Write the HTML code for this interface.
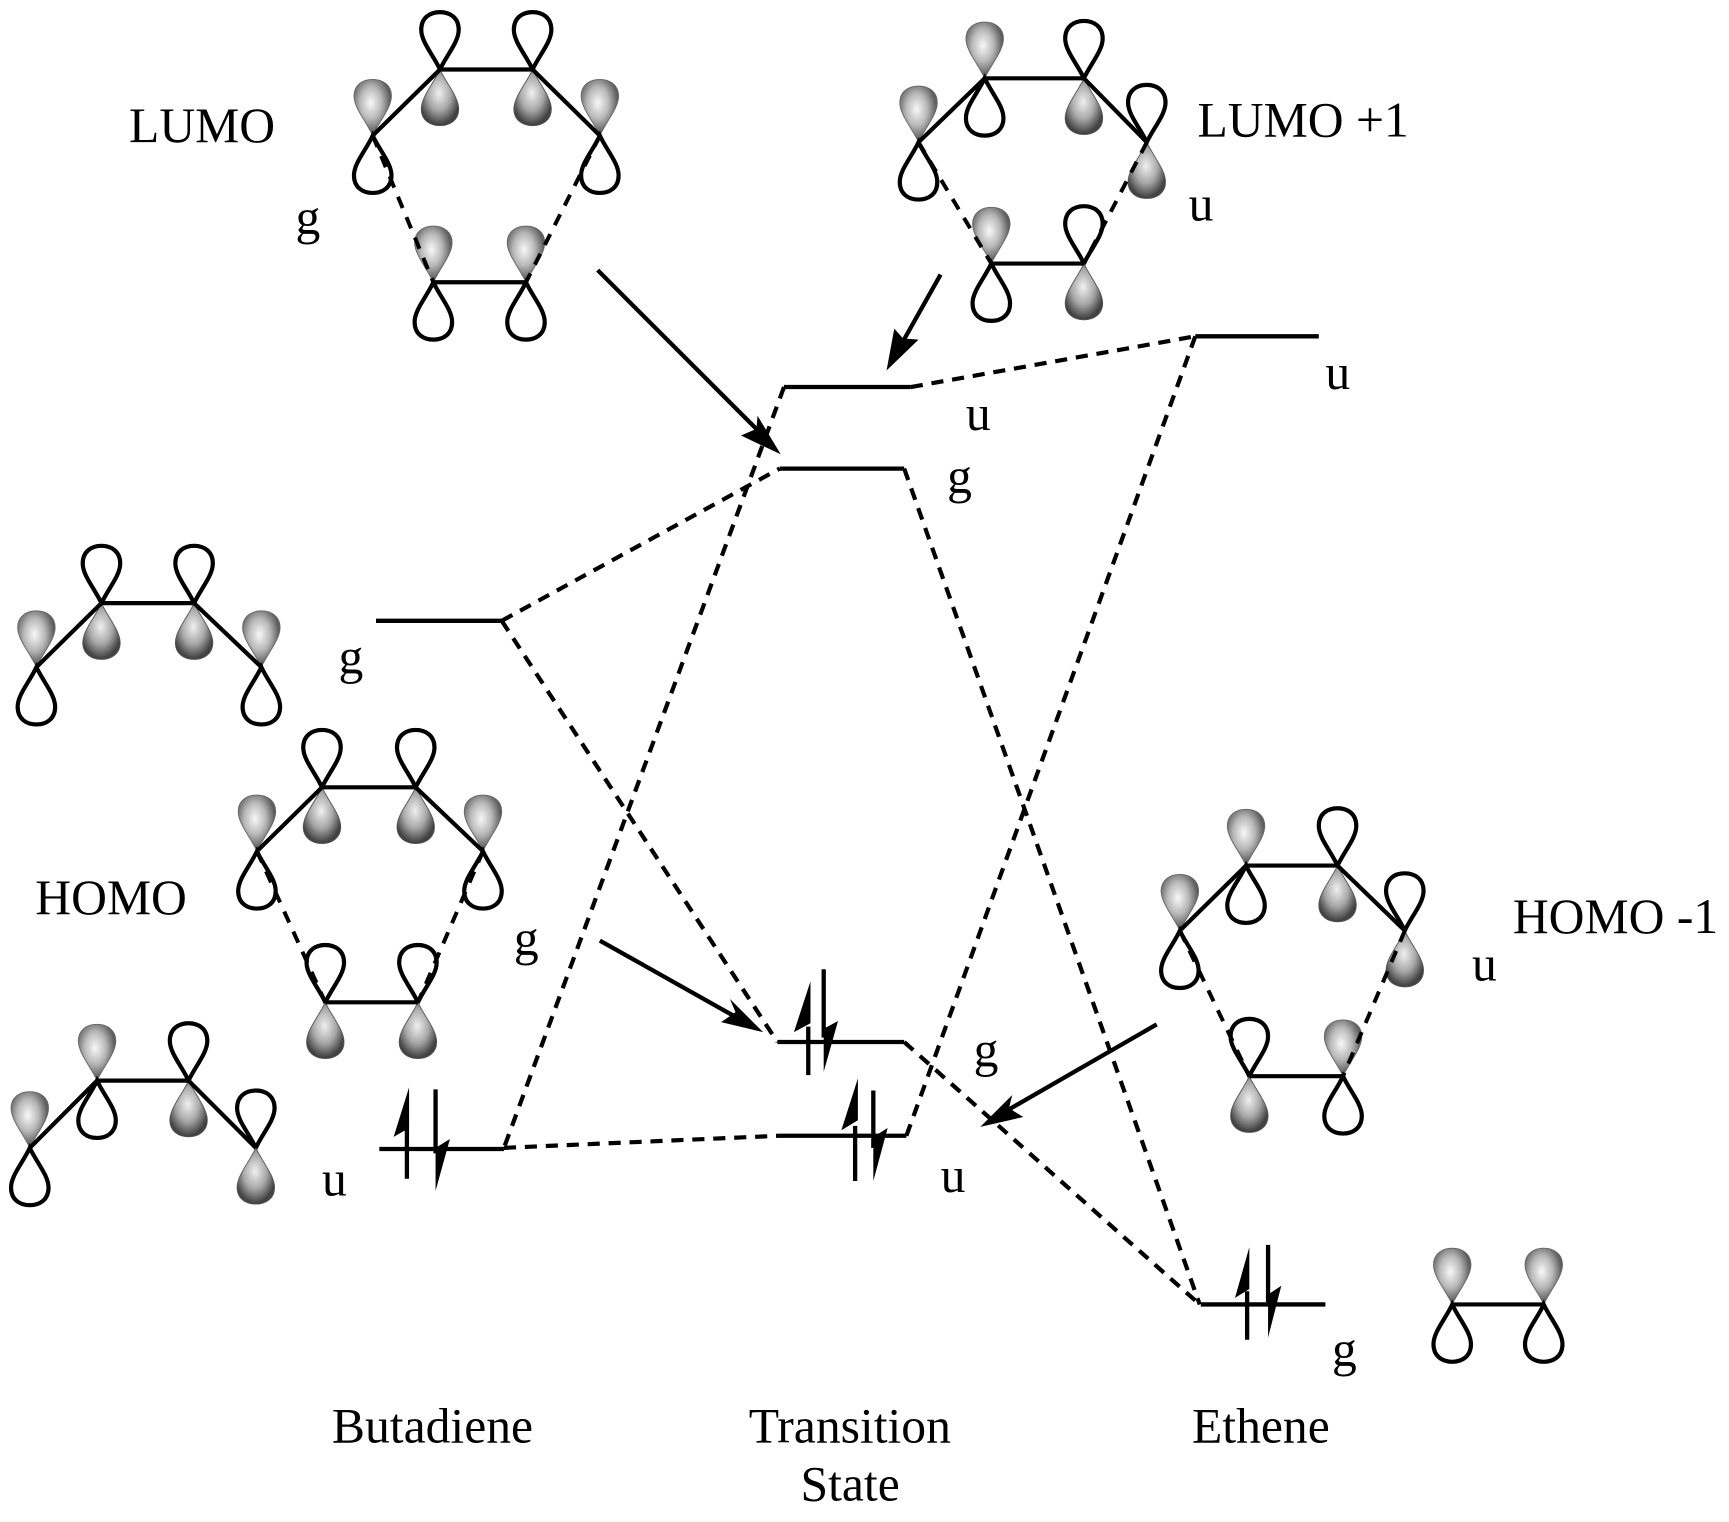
<!DOCTYPE html>
<html><head><meta charset="utf-8"><style>html,body{margin:0;padding:0;background:#fff}svg{display:block}text{font-family:"Liberation Serif",serif;font-size:45px;fill:#000}</style></head><body>
<svg width="1729" height="1522" viewBox="0 -1 1568 1380.3" xmlns="http://www.w3.org/2000/svg">
<defs>
<radialGradient id="gu" cx=".45" cy=".42" r=".52"><stop offset="0" stop-color="#f8f8f8"/><stop offset=".55" stop-color="#b8b8b8"/><stop offset="1" stop-color="#5e5e5e"/></radialGradient>
<radialGradient id="gd" cx=".48" cy=".42" r=".56"><stop offset="0" stop-color="#f0f0f0"/><stop offset=".55" stop-color="#a8a8a8"/><stop offset="1" stop-color="#424242"/></radialGradient>
<path id="ou" d="M0,0C-6,-13 -17,-25 -17,-36C-17,-47 -9,-52 0,-52C9,-52 17,-47 17,-36C17,-25 6,-13 0,0Z" fill="none" stroke="#000" stroke-width="3.8"/>
<path id="od" d="M0,0C-6,13 -17,25 -17,36C-17,47 -9,52 0,52C9,52 17,47 17,36C17,25 6,13 0,0Z" fill="none" stroke="#000" stroke-width="3.8"/>
<path id="fu" d="M0,0C-6,-13 -17,-25 -17,-36C-17,-46 -9,-51 0,-51C9,-51 17,-46 17,-36C17,-25 6,-13 0,0Z" fill="url(#gu)" stroke="#666" stroke-width=".8"/>
<path id="fd" d="M0,0C-6,13 -17,25 -17,36C-17,46 -9,51 0,51C9,51 17,46 17,36C17,25 6,13 0,0Z" fill="url(#gd)" stroke="#555" stroke-width=".8"/>
</defs>
<g id="lobes">
<!-- LUMO -->
<use href="#fu" x="338" y="122"/><use href="#od" x="338" y="122"/>
<use href="#ou" x="399" y="62"/><use href="#fd" x="399" y="62"/>
<use href="#ou" x="483" y="62"/><use href="#fd" x="483" y="62"/>
<use href="#fu" x="544" y="122"/><use href="#od" x="544" y="122"/>
<use href="#fu" x="393" y="255"/><use href="#od" x="393" y="255"/>
<use href="#fu" x="477" y="255"/><use href="#od" x="477" y="255"/>
<!-- LUMO+1 -->
<use href="#fu" x="833" y="128"/><use href="#od" x="833" y="128"/>
<use href="#fu" x="893" y="70"/><use href="#od" x="893" y="70"/>
<use href="#ou" x="983" y="70"/><use href="#fd" x="983" y="70"/>
<use href="#ou" x="1040" y="128"/><use href="#fd" x="1040" y="128"/>
<use href="#fu" x="899" y="238"/><use href="#od" x="899" y="238"/>
<use href="#ou" x="983" y="238"/><use href="#fd" x="983" y="238"/>
<!-- butadiene g -->
<use href="#fu" x="33" y="604"/><use href="#od" x="33" y="604"/>
<use href="#ou" x="92" y="546"/><use href="#fd" x="92" y="546"/>
<use href="#ou" x="176" y="546"/><use href="#fd" x="176" y="546"/>
<use href="#fu" x="237" y="604"/><use href="#od" x="237" y="604"/>
<!-- HOMO -->
<use href="#fu" x="233" y="771"/><use href="#od" x="233" y="771"/>
<use href="#ou" x="292" y="713"/><use href="#fd" x="292" y="713"/>
<use href="#ou" x="377" y="713"/><use href="#fd" x="377" y="713"/>
<use href="#fu" x="438" y="771"/><use href="#od" x="438" y="771"/>
<use href="#ou" x="295" y="908"/><use href="#fd" x="295" y="908"/>
<use href="#ou" x="379" y="908"/><use href="#fd" x="379" y="908"/>
<!-- butadiene u -->
<use href="#fu" x="27" y="1040"/><use href="#od" x="27" y="1040"/>
<use href="#fu" x="88" y="979"/><use href="#od" x="88" y="979"/>
<use href="#ou" x="171" y="979"/><use href="#fd" x="171" y="979"/>
<use href="#ou" x="232" y="1040"/><use href="#fd" x="232" y="1040"/>
<!-- HOMO-1 -->
<use href="#fu" x="1070" y="843"/><use href="#od" x="1070" y="843"/>
<use href="#fu" x="1130" y="784"/><use href="#od" x="1130" y="784"/>
<use href="#ou" x="1213" y="784"/><use href="#fd" x="1213" y="784"/>
<use href="#ou" x="1274" y="843"/><use href="#fd" x="1274" y="843"/>
<use href="#ou" x="1133" y="975"/><use href="#fd" x="1133" y="975"/>
<use href="#fu" x="1218" y="975"/><use href="#od" x="1218" y="975"/>
<!-- ethene -->
<use href="#fu" x="1317" y="1182"/><use href="#od" x="1317" y="1182"/>
<use href="#fu" x="1400" y="1182"/><use href="#od" x="1400" y="1182"/>
</g>
<g fill="none" stroke="#000" stroke-width="3.8">
<path d="M338,122L399,62H483L544,122M393,255H477"/>
<path d="M833,128L893,70H983L1040,128M899,238H983"/>
<path d="M33,604L92,546H176L237,604"/>
<path d="M233,771L292,713H377L438,771M295,908H379"/>
<path d="M27,1040L88,979H171L232,1040"/>
<path d="M1070,843L1130,784H1213L1274,843M1133,975H1218"/>
<path d="M1317,1182H1400"/>
</g>
<g fill="none" stroke="#000" stroke-width="3.6" stroke-dasharray="11 9">
<path d="M338,122L393,255M544,122L477,255M833,128L899,238M1040,128L983,238M233,771L295,908M438,771L379,908M1070,843L1133,975M1274,843L1218,975"/>
</g>
<g fill="none" stroke="#000" stroke-width="3.8" stroke-dasharray="11 8">
<path d="M455,562L707,424"/>
<path d="M455,562L705,944"/>
<path d="M826,350L1084,304"/>
<path d="M711,350L457,1040"/>
<path d="M820,424L1088,1182"/>
<path d="M457,1040L707,1029"/>
<path d="M822,1029L1084,304"/>
<path d="M820,944L1088,1182"/>
</g>
<g fill="none" stroke="#000" stroke-width="3.9">
<path d="M711,350H826M707,424H820M1084,304H1196M341,562H455M344,1041H457M705,944H820M707,1029H822M1089,1182H1202"/>
<path d="M369,1068V1020M395,987V1045M733,974V930M747,878V940M775.5,1070V1020M792,988V1040M1131,1214V1170M1150,1128V1180"/>
<path d="M542,244L692,394M853,248L817,312M544,852L672,924M1049,928L910,1008"/>
</g>
<g fill="#000">
<path d="M371,985V1022L357,1030ZM395,1079V1040L408,1032Z"/>
<path d="M735,889V927L720,935ZM747,971V932L760,925Z"/>
<path d="M778,977V1015L763,1024ZM792,1070V1030L805,1022Z"/>
<path d="M1133,1130V1168L1120,1176ZM1150,1212V1173L1162,1165Z"/>
<path d="M708,411L672,394L686,388L687,376Z"/>
<path d="M804,335L811,297L819,306L833,307Z"/>
<path d="M692,935L654,926L667,917L662,905Z"/>
<path d="M889,1021L918,992L915,1004L928,1012Z"/>
</g>
<text x="117" y="128">LUMO</text>
<text x="1086" y="123">LUMO +1</text>
<text x="268" y="211">g</text>
<text x="1078" y="199">u</text>
<text x="876" y="389">u</text>
<text x="1202" y="352">u</text>
<text x="859" y="446">g</text>
<text x="307" y="610">g</text>
<text x="32" y="828">HOMO</text>
<text x="466" y="865">g</text>
<text x="292" y="1083">u</text>
<text x="1372" y="845">HOMO -1</text>
<text x="1335" y="888">u</text>
<text x="883" y="966">g</text>
<text x="853" y="1080">u</text>
<text x="1208" y="1238">g</text>
<text x="301" y="1307">Butadiene</text>
<text x="679" y="1307">Transition</text>
<text x="726" y="1360">State</text>
<text x="1081" y="1307">Ethene</text>
</svg>
</body></html>
